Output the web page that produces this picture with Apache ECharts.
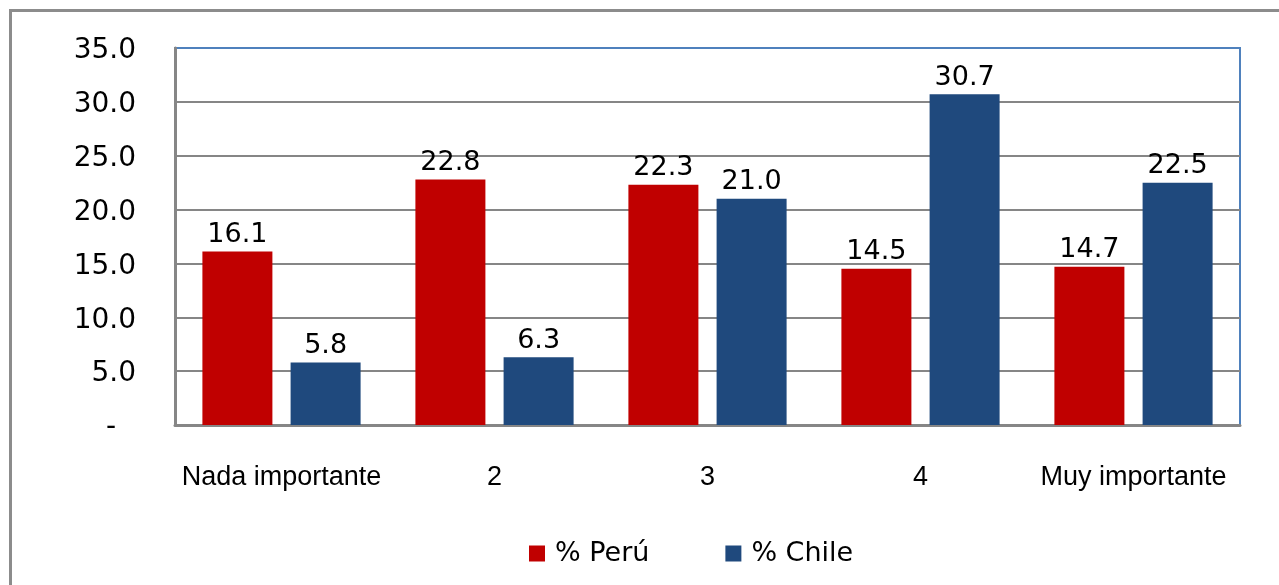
<!DOCTYPE html>
<html>
<head>
<meta charset="utf-8">
<script src="https://cdn.jsdelivr.net/npm/echarts@6/dist/echarts.min.js"></script>
<style>html,body{margin:0;padding:0;background:#fff;}#c{width:1279px;height:585px;}</style>
</head>
<body>
<div id="c"></div>
<script>
const categories = ['Nada importante', '2', '3', '4', 'Muy importante'];
const peru = [16.1, 22.8, 22.3, 14.5, 14.7];
const chile = [5.8, 6.3, 21.0, 30.7, 22.5];
const seriesNames = ['% Perú', '% Chile'];

const chart = echarts.init(document.getElementById('c'));
const lbl = {
  show: true, position: 'top', distance: 3,
  fontFamily: 'DejaVu Sans', fontSize: 27, color: '#000',
  formatter: p => p.value.toFixed(1)
};
chart.setOption({
  animation: false,
  backgroundColor: '#fff',
  graphic: [{
    type: 'rect', shape: { x: 10.5, y: 10.5, width: 1400, height: 700 },
    style: { fill: 'none', stroke: '#8c8c8c', lineWidth: 3 }, z: -1
  }],
  grid: {
    left: 175, right: 39, top: 48, bottom: 160,
    show: true, borderColor: '#4F81BD', borderWidth: 2, backgroundColor: 'transparent'
  },
  legend: {
    left: 524, top: 535,
    itemWidth: 16, itemHeight: 16, itemGap: 76, icon: 'rect',
    textStyle: { fontFamily: 'DejaVu Sans', fontSize: 27, color: '#000', padding: [0, 0, 0, 5] },
    data: seriesNames
  },
  xAxis: {
    type: 'category', data: categories,
    axisLine: { show: true, lineStyle: { color: '#868686', width: 3 } },
    axisTick: { show: false },
    axisLabel: { margin: 39, fontFamily: 'Liberation Sans', fontSize: 27, color: '#000', interval: 0 }
  },
  yAxis: {
    type: 'value', min: 0, max: 35, interval: 5,
    axisLine: { show: true, lineStyle: { color: '#868686', width: 3 } },
    axisTick: { show: false },
    splitLine: { show: true, showMaxLine: false, showMinLine: false, lineStyle: { color: '#868686', width: 2 } },
    axisLabel: {
      margin: 39, fontFamily: 'DejaVu Sans', fontSize: 28, color: '#000', padding: [6, 0, 0, 0],
      formatter: v => v === 0 ? '{d|-}' : v.toFixed(1),
      rich: { d: { fontFamily: 'DejaVu Sans', fontSize: 28, color: '#000', padding: [0, 20, 0, 0] } }
    }
  },
  series: [
    { name: seriesNames[0], type: 'bar', data: peru, barWidth: 70, barGap: '26%',
      itemStyle: { color: '#C00000' }, label: lbl },
    { name: seriesNames[1], type: 'bar', data: chile, barWidth: 70,
      itemStyle: { color: '#1F497D' }, label: lbl }
  ]
});
</script>
</body>
</html>
